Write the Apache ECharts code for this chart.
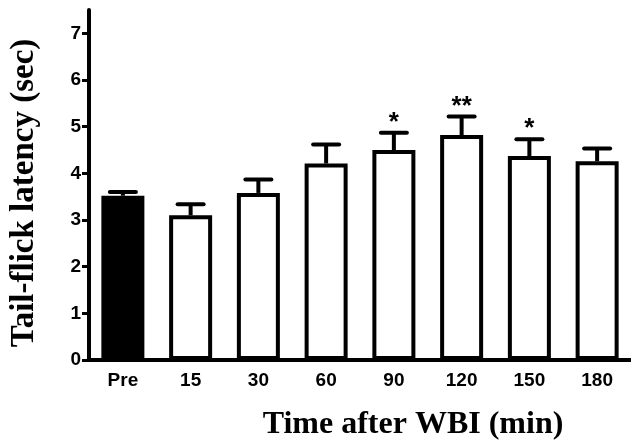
<!DOCTYPE html>
<html>
<head>
<meta charset="utf-8">
<script src="https://cdn.jsdelivr.net/npm/echarts@6/dist/echarts.min.js"></script>
<style>html,body{margin:0;padding:0;background:#fff;}#c{width:631px;height:445px;}</style>
</head>
<body>
<div id="c"></div>
<script>
const categories = ['Pre', '15', '30', '60', '90', '120', '150', '180'];
const means = [3.52, 3.10, 3.58, 4.21, 4.50, 4.82, 4.37, 4.26];
const errors = [0.08, 0.24, 0.29, 0.41, 0.37, 0.40, 0.36, 0.27];
const significance = ['', '', '', '', '*', '**', '*', ''];
const yTicks = [0, 1, 2, 3, 4, 5, 6, 7];

const chart = echarts.init(document.getElementById('c'), null, {renderer: 'canvas'});
const option = {
  backgroundColor: '#ffffff',
  animation: false,
  grid: {left: 89, right: 0, top: 10, bottom: 85, containLabel: false, outerBoundsMode: 'none'},
  xAxis: {
    type: 'category',
    data: categories,
    axisLine: {lineStyle: {color: '#000', width: 4}},
    axisTick: {show: false},
    axisLabel: {color: '#000', fontFamily: 'Liberation Sans', fontWeight: 'bold', fontSize: 19, margin: 11}
  },
  yAxis: {
    type: 'value',
    min: 0,
    max: 7.5,
    interval: 1,
    splitLine: {show: false},
    axisLine: {show: true, lineStyle: {color: '#000', width: 4}},
    axisTick: {show: true, length: 7, lineStyle: {color: '#000', width: 3}, customValues: yTicks},
    axisLabel: {color: '#000', fontFamily: 'Liberation Sans', fontWeight: 'bold', fontSize: 19, margin: 8, customValues: yTicks}
  },
  graphic: [{
    type: 'text',
    x: 24,
    y: 193,
    rotation: Math.PI / 2,
    style: {text: 'Tail-flick latency (sec)', fill: '#000', font: 'bold 33px "Liberation Serif"', align: 'center', verticalAlign: 'middle'}
  }, {
    type: 'text',
    x: 413,
    y: 425,
    style: {text: 'Time after WBI (min)', fill: '#000', font: 'bold 32px "Liberation Serif"', align: 'center', verticalAlign: 'middle'}
  }],
  series: [{
    type: 'bar',
    barWidth: 43,
    data: means.map((v, i) => ({
      value: v,
      itemStyle: {color: i === 0 ? '#000' : '#fff', borderColor: '#000', borderWidth: 4}
    })),
    z: 2
  }, {
    type: 'custom',
    z: 3,
    data: means.map((v, i) => [i, v, errors[i], significance[i]]),
    renderItem: function (params, api) {
      const x = api.value(0), v = api.value(1), e = api.value(2);
      const s = significance[params.dataIndex];
      const p0 = api.coord([x, v]);
      const p1 = api.coord([x, v + e]);
      const hw = 13;
      const children = [
        {type: 'line', shape: {x1: p0[0], y1: p0[1], x2: p1[0], y2: p1[1]}, style: {stroke: '#000', lineWidth: 4}},
        {type: 'line', shape: {x1: p1[0] - hw, y1: p1[1], x2: p1[0] + hw, y2: p1[1]}, style: {stroke: '#000', lineWidth: 4, lineCap: 'round'}}
      ];
      if (s) {
        children.push({type: 'text', x: p1[0], y: p1[1] + 3, style: {text: s, fill: '#000', font: 'bold 26px "Liberation Sans"', align: 'center', verticalAlign: 'bottom'}});
      }
      return {type: 'group', children: children};
    }
  }]
};
chart.setOption(option);
</script>
</body>
</html>
